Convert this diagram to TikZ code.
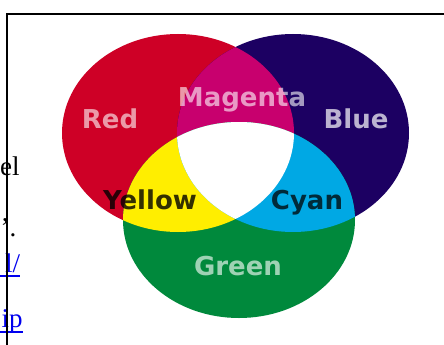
\documentclass[tikz,border=0pt]{standalone}
\usepackage{fontspec}
\setmainfont{Liberation Serif}
\newfontfamily\labfont{DejaVu Sans}
\definecolor{cRed}{RGB}{206,0,38}
\definecolor{cMag}{RGB}{200,0,110}
\definecolor{cBlue}{RGB}{28,0,98}
\definecolor{cYel}{RGB}{255,238,0}
\definecolor{cCyan}{RGB}{0,168,228}
\definecolor{cGreen}{RGB}{0,137,60}
\definecolor{linkblue}{RGB}{0,0,238}
\tikzset{
  redE/.style={insert path={(178,133) ellipse [x radius=116pt, y radius=99pt]}},
  blueE/.style={insert path={(293,133) ellipse [x radius=116pt, y radius=99pt]}},
  greenE/.style={insert path={(239,220) ellipse [x radius=116pt, y radius=98pt]}},
  lab/.style={font=\labfont\bfseries\fontsize{26}{26}\selectfont, inner sep=0pt, anchor=base},
  lightlab/.style={lab, text=white, text opacity=#1},
  darklab/.style={lab, text=black, text opacity=#1},
  pagetext/.style={font=\fontsize{27}{30}\selectfont, inner sep=0pt, anchor=base west},
  linkline/.style={linkblue, line width=1.3pt},
}
\begin{document}
\begin{tikzpicture}[x=1pt,y=-1pt]
\useasboundingbox (0,0) rectangle (444,345);
\fill[white] (0,0) rectangle (444,345);
% primary discs
\fill[cRed, redE];
\fill[cBlue, blueE];
\fill[cGreen, greenE];
% pairwise mixtures
\begin{scope}
  \clip[redE];
  \fill[cMag, blueE];
\end{scope}
\begin{scope}
  \clip[redE];
  \fill[cYel, greenE];
\end{scope}
\begin{scope}
  \clip[blueE];
  \fill[cCyan, greenE];
\end{scope}
\begin{scope}
  \clip[redE];
  \clip[blueE];
  \fill[white, greenE];
\end{scope}
% labels
\node[lightlab=0.6] (lred) at (110,128) {Red};
\node[lightlab=0.6] (lmag) at (242,106) {Magenta};
\node[lightlab=0.7] (lblue) at (356,128) {Blue};
\node[darklab=0.8] (lyel) at (150,209) {Yellow};
\node[darklab=0.75] (lcyan) at (307,209) {Cyan};
\node[lightlab=0.62] (lgreen) at (238,275) {Green};
% page text fragments on the left
\node[pagetext] (t1) at (0,175) {el};
\node[pagetext] (t2) at (0.5,236) {’.};
\node[pagetext, text=linkblue] (t3) at (5,272) {l/};
\node[pagetext, text=linkblue] (t4) at (1.5,327) {ip};
\coordinate (u1) at (0,276);
\coordinate (u2) at (0,332);
\draw[linkline] (u1) -- (t3.base east |- u1);
\draw[linkline] (u2) -- (t4.base east |- u2);
% frame lines
\coordinate (fbl) at (6.7,345);
\coordinate (ftl) at (6.7,14.2);
\coordinate (ftr) at (444,14.2);
\draw[line width=1.6pt] (fbl) -- (ftl) -- (ftr);
\end{tikzpicture}
\end{document}
